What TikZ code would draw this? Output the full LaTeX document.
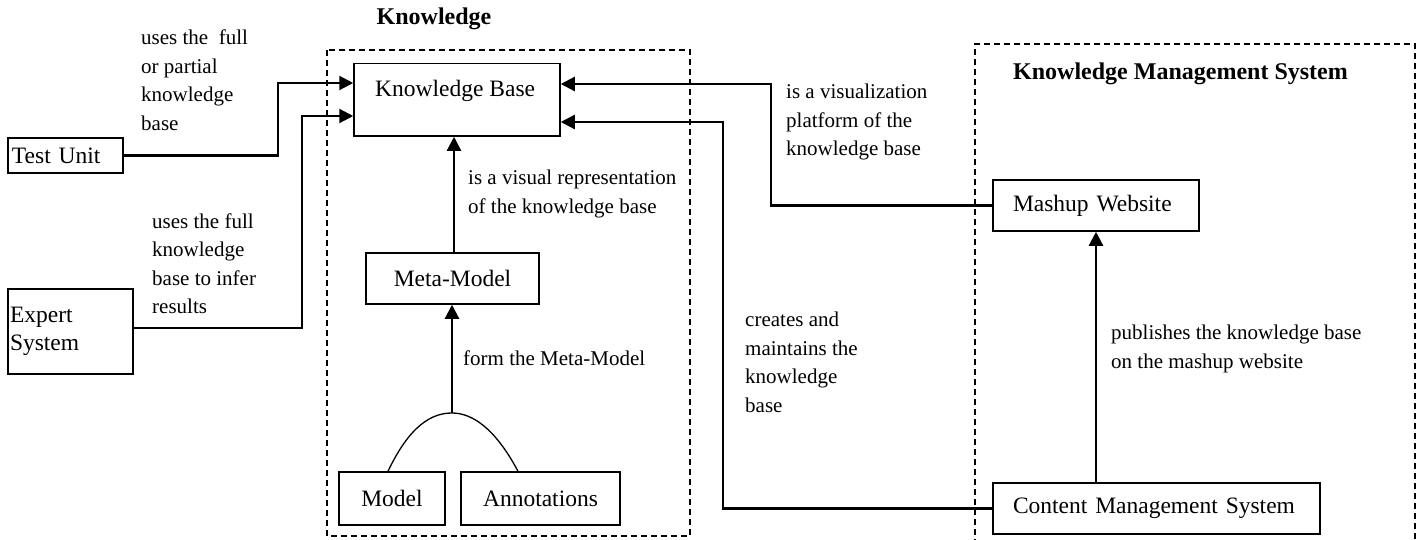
\documentclass[tikz,border=0pt]{standalone}
\usepackage{fontspec}
\setmainfont{Liberation Serif}
\usetikzlibrary{arrows.meta}
\begin{document}
\begin{tikzpicture}[x=1pt,y=-1pt,
  every node/.style={font=\fontsize{23.5}{28.5}\selectfont},
  box/.style={draw,line width=1.5pt,inner ysep=0pt,align=left},
  cbox/.style={draw,line width=1.5pt,inner sep=0pt,align=center},
  lbl/.style={inner sep=0pt,anchor=west,align=left,font=\fontsize{21}{28.5}\selectfont},
  ttl/.style={inner sep=0pt,font=\fontsize{24}{28.5}\selectfont\bfseries},
  conn/.style={line width=2.2pt,-{Triangle[length=14pt,width=14pt]}},
  grp/.style={line width=1.4pt,dash pattern=on 6pt off 4pt},
  arcline/.style={line width=1.3pt}]
\useasboundingbox (0,0) rectangle (1417,539);

% group frames
\draw[grp] (327,50) rectangle (690,536);
\draw[grp] (975,545) -- (975,44) -- (1415,44) -- (1415,545);
\node[ttl] (tk) at (434,19) {Knowledge};
\node[ttl,anchor=west] (tkms) at (1013,74) {Knowledge Management System};

% boxes
\node[cbox,minimum width=206pt,minimum height=72.5pt] (kb) at (457,99.75) {};
\node[inner sep=0pt,anchor=west] (kbt) at (375,90.5) {Knowledge Base};
\node[box,inner xsep=4pt,text width=107pt,minimum height=35pt] (tu) at (65.5,155.5) {Test Unit};
\node[box,inner xsep=2pt,text width=121pt,minimum height=85pt] (es) at (70.5,331.5) {Expert\\System};
\node[cbox,minimum width=173pt,minimum height=51pt] (mm) at (452.5,278.5) {Meta-Model};
\node[cbox,minimum width=106pt,minimum height=53pt] (model) at (392,498.5) {Model};
\node[cbox,minimum width=159pt,minimum height=53pt] (ann) at (540.5,498.5) {Annotations};
\node[box,inner xsep=20pt,text width=166pt,minimum height=51pt] (mw) at (1096,205.5) {Mashup Website};
\node[box,inner xsep=20pt,text width=287pt,minimum height=51pt] (cms) at (1156.5,508.5) {Content Management System};

% labels
\node[lbl] (l1) at (141,80) {uses the\ \ full\\or partial\\knowledge\\base};
\node[lbl] (l2) at (152,263.5) {uses the full\\knowledge\\base to infer\\results};
\node[lbl] (l3) at (468,194) {is a visual representation\\of the knowledge base};
\node[lbl] (l4) at (463,358) {form the Meta-Model};
\node[lbl] (l5) at (786,122) {is a visualization\\platform of the\\knowledge base};
\node[lbl] (l6) at (745,362.5) {creates and\\maintains the\\knowledge\\base};
\node[lbl] (l7) at (1111,349) {publishes the knowledge base\\on the mashup website};

% connectors
\draw[conn] (tu.east) -- (278,155.5) -- (278,83) -- (kb.west |- 0,83);
\draw[conn] (es.east |- 0,328) -- (302,328) -- (302,116) -- (kb.west |- 0,116);
\draw[conn] (mw.west) -- (771,205.5) -- (771,84) -- (kb.east |- 0,84);
\draw[conn] (cms.west) -- (723,508.5) -- (723,122) -- (kb.east |- 0,122);
\draw[conn] (mw.south |- cms.north) -- (mw.south);
\draw[conn] (mm.north -| 454,0) -- (kb.south -| 454,0);
\coordinate (peak) at (452,413);
\draw[arcline] (model.north -| 388,0) .. controls (410,425) and (432,413) .. (peak)
  .. controls (472,413) and (495,428) .. (ann.north -| 518,0);
\draw[conn] (peak) -- (peak |- mm.south);
\end{tikzpicture}
\end{document}
